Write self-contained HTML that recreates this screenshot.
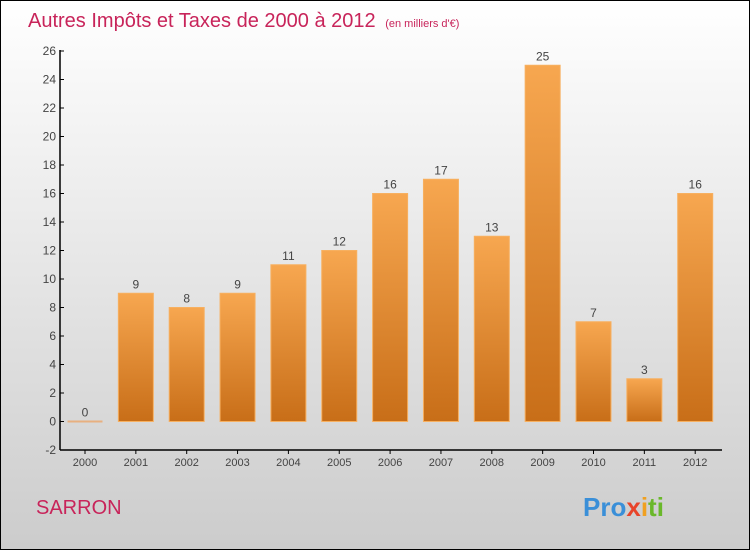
<!DOCTYPE html>
<html><head><meta charset="utf-8"><style>
html,body{margin:0;padding:0}
body{width:750px;height:550px;overflow:hidden;font-family:"Liberation Sans",sans-serif}
</style></head><body>
<svg width="750" height="550" xmlns="http://www.w3.org/2000/svg">
<defs>
<linearGradient id="bg" x1="0" y1="0" x2="0" y2="1"><stop offset="0" stop-color="#ffffff"/><stop offset="1" stop-color="#cccccc"/></linearGradient>
<linearGradient id="bar" x1="0" y1="0" x2="0" y2="1"><stop offset="0" stop-color="#f7a750"/><stop offset="1" stop-color="#c86e18"/></linearGradient>
</defs>
<rect x="0.5" y="0.5" width="749" height="549" fill="url(#bg)" stroke="#000"/>
<text x="28" y="27" font-size="20" fill="#c8245a">Autres Impôts et Taxes de 2000 à 2012 <tspan font-size="11" dx="4">(en milliers d'€)</tspan></text>
<text x="36" y="514" font-size="20" fill="#c8245a">SARRON</text>
<text x="583" y="516" font-size="26" font-weight="bold"><tspan fill="#3a8fd8">Pro</tspan><tspan fill="#e8442a">x</tspan><tspan fill="#f0a020">i</tspan><tspan fill="#6ab82a">ti</tspan></text>
<g id="plot"></g>
</svg>
<script>
const years=["2000","2001","2002","2003","2004","2005","2006","2007","2008","2009","2010","2011","2012"];
const values=[0,9,8,9,11,12,16,17,13,25,7,3,16];
const yTicks=[-2,0,2,4,6,8,10,12,14,16,18,20,22,24,26];
const NS="http://www.w3.org/2000/svg";
const g=document.getElementById('plot');
const y=v=>421.5-v*14.25;
const x=i=>85+i*50.85;
function el(t,a,p){const e=document.createElementNS(NS,t);for(const k in a)e.setAttribute(k,a[k]);(p||g).appendChild(e);return e;}
const ya=el('line',{x1:60,y1:50,x2:60,y2:450,stroke:'#000','stroke-width':1.5});


const xa=el('line',{x1:60,y1:450,x2:722,y2:450,stroke:'#000','stroke-width':1.5});


yTicks.forEach(t=>{
 el('line',{x1:60,y1:y(t),x2:64,y2:y(t),stroke:'#000'});
 const tx=el('text',{x:56,y:y(t)+4,'font-size':12,fill:'#444','text-anchor':'end'});
 tx.textContent=t;
 
 
});
years.forEach((yr,i)=>{
 el('line',{x1:x(i),y1:450,x2:x(i),y2:454,stroke:'#000'});
 const tx=el('text',{x:x(i),y:466,'font-size':11,fill:'#444','text-anchor':'middle'});
 tx.textContent=yr;
 
 
 const v=values[i];
 let r;
 if(v===0){r=el('rect',{x:x(i)-17.5,y:y(0)-1,width:35,height:2,fill:'#e8b080'});}
 else{r=el('rect',{x:x(i)-17.5,y:y(v),width:35,height:y(0)-y(v),fill:'url(#bar)',stroke:'#f7b060','stroke-width':1});}
 
 
 const lb=el('text',{x:x(i),y:y(v)-5,'font-size':12,fill:'#444','text-anchor':'middle'});
 lb.textContent=v;
 
 
});
</script>
</body></html>
